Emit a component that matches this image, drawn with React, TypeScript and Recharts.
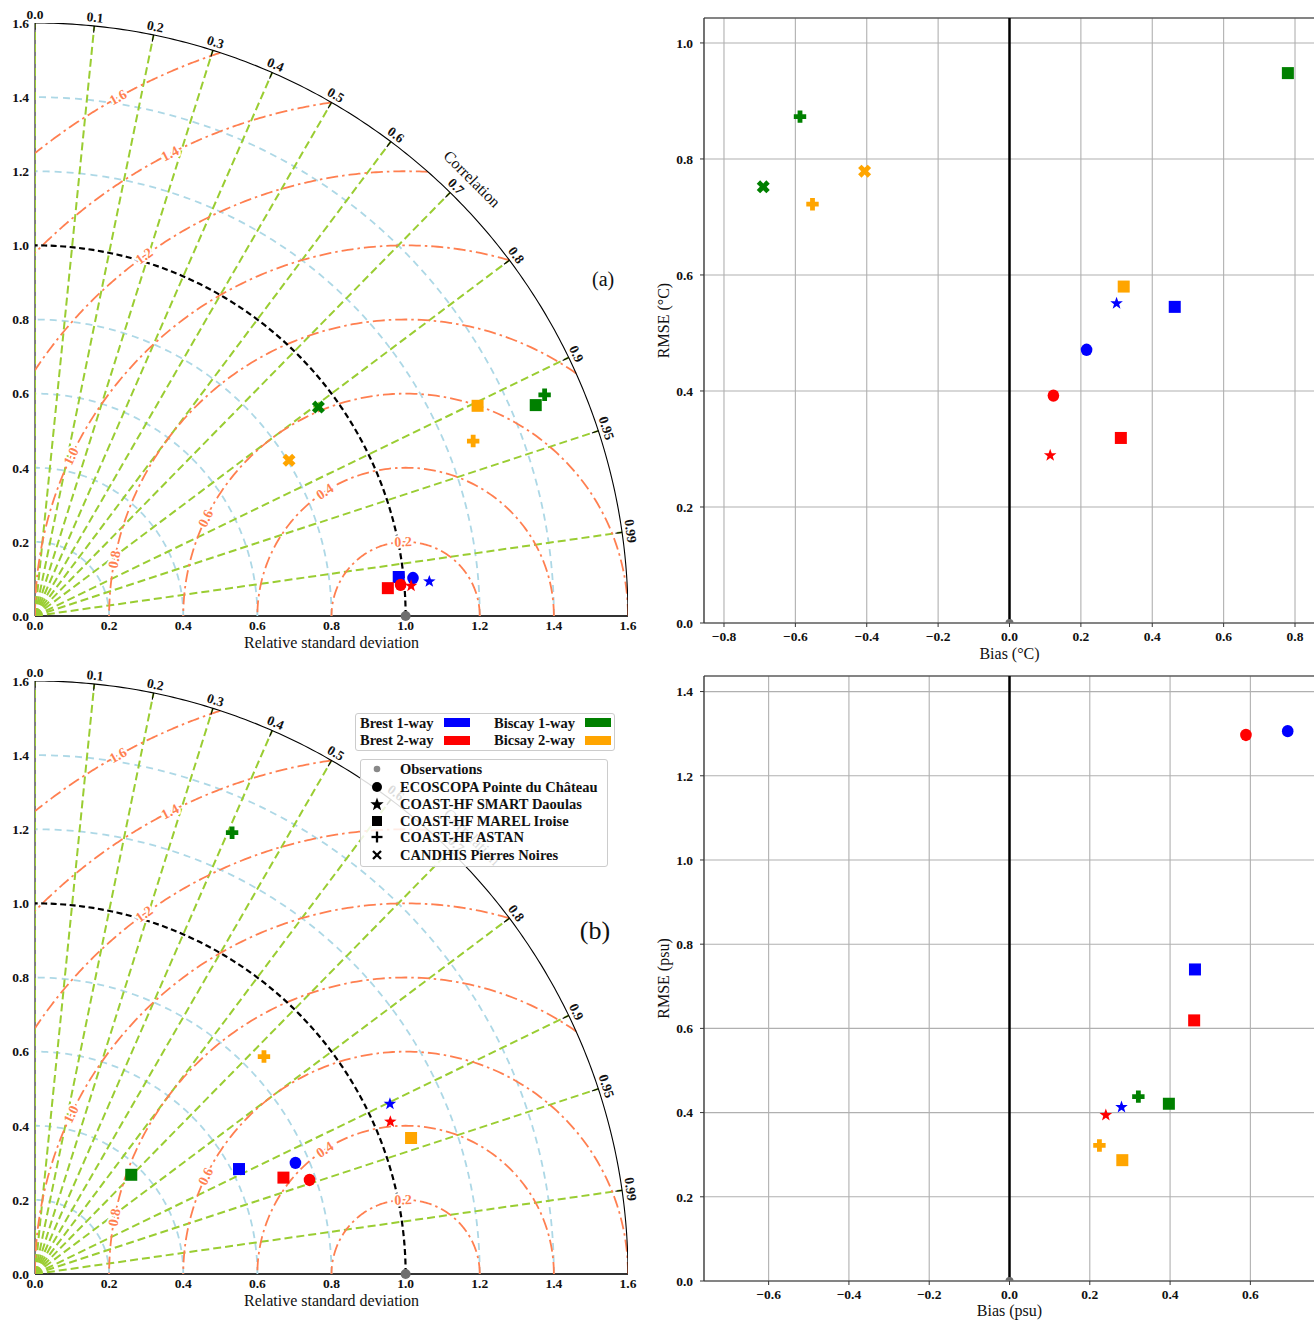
import React from 'react';
import { ScatterChart, Scatter, XAxis, YAxis, CartesianGrid, ReferenceLine, ReferenceDot } from 'recharts';

const FONT = '"Liberation Serif", "DejaVu Serif", serif';

// ---------- categories ----------
const configs = ['Brest 1-way', 'Brest 2-way', 'Biscay 1-way', 'Bicsay 2-way'];
const configColors = ['#0000ff', '#ff0000', '#008000', '#ffa500'];
const stations = ['ECOSCOPA Pointe du Château', 'COAST-HF SMART Daoulas', 'COAST-HF MAREL Iroise', 'COAST-HF ASTAN', 'CANDHIS Pierres Noires'];
const stationMarkers = ['circle', 'star', 'square', 'plus', 'cross'];
const observationLabel = 'Observations';
const [ECO, SMART, MAREL, ASTAN, CANDHIS] = stations;

// ---------- (a) temperature : Taylor (relative std, correlation) ----------
const tempTaylorBrest1 = [
  { station: ECO, std: 1.025, corr: 0.995 },
  { station: SMART, std: 1.068, corr: 0.9962 },
  { station: MAREL, std: 0.987, corr: 0.9943 },
];
const tempTaylorBrest2 = [
  { station: ECO, std: 0.99, corr: 0.9964 },
  { station: SMART, std: 1.018, corr: 0.9968 },
  { station: MAREL, std: 0.955, corr: 0.9969 },
];
const tempTaylorBiscay1 = [
  { station: MAREL, std: 1.466, corr: 0.9216 },
  { station: ASTAN, std: 1.499, corr: 0.9173 },
  { station: CANDHIS, std: 0.95, corr: 0.8049 },
];
const tempTaylorBiscay2 = [
  { station: MAREL, std: 1.322, corr: 0.9033 },
  { station: ASTAN, std: 1.273, corr: 0.9287 },
  { station: CANDHIS, std: 0.804, corr: 0.8525 },
];

// ---------- (b) salinity : Taylor ----------
const salTaylorBrest1 = [
  { station: ECO, std: 0.764, corr: 0.9198 },
  { station: SMART, std: 1.062, corr: 0.9018 },
  { station: MAREL, std: 0.619, corr: 0.8892 },
];
const salTaylorBrest2 = [
  { station: ECO, std: 0.783, corr: 0.946 },
  { station: SMART, std: 1.043, corr: 0.9192 },
  { station: MAREL, std: 0.719, corr: 0.9323 },
];
const salTaylorBiscay1 = [
  { station: MAREL, std: 0.373, corr: 0.6963 },
  { station: ASTAN, std: 1.304, corr: 0.4078 },
];
const salTaylorBiscay2 = [
  { station: MAREL, std: 1.079, corr: 0.9404 },
  { station: ASTAN, std: 0.852, corr: 0.7251 },
];

// ---------- (a) temperature : bias / RMSE ----------
const tempBiasBrest1 = [
  { station: ECO, bias: 0.216, rmse: 0.471 },
  { station: SMART, bias: 0.3, rmse: 0.551 },
  { station: MAREL, bias: 0.463, rmse: 0.545 },
];
const tempBiasBrest2 = [
  { station: ECO, bias: 0.123, rmse: 0.392 },
  { station: SMART, bias: 0.114, rmse: 0.289 },
  { station: MAREL, bias: 0.312, rmse: 0.319 },
];
const tempBiasBiscay1 = [
  { station: MAREL, bias: 0.78, rmse: 0.948 },
  { station: ASTAN, bias: -0.587, rmse: 0.873 },
  { station: CANDHIS, bias: -0.69, rmse: 0.752 },
];
const tempBiasBiscay2 = [
  { station: MAREL, bias: 0.32, rmse: 0.58 },
  { station: ASTAN, bias: -0.552, rmse: 0.722 },
  { station: CANDHIS, bias: -0.406, rmse: 0.779 },
];

// ---------- (b) salinity : bias / RMSE ----------
const salBiasBrest1 = [
  { station: ECO, bias: 0.693, rmse: 1.306 },
  { station: SMART, bias: 0.279, rmse: 0.413 },
  { station: MAREL, bias: 0.462, rmse: 0.74 },
];
const salBiasBrest2 = [
  { station: ECO, bias: 0.589, rmse: 1.297 },
  { station: SMART, bias: 0.24, rmse: 0.394 },
  { station: MAREL, bias: 0.46, rmse: 0.619 },
];
const salBiasBiscay1 = [
  { station: MAREL, bias: 0.397, rmse: 0.421 },
  { station: ASTAN, bias: 0.321, rmse: 0.438 },
];
const salBiasBiscay2 = [
  { station: MAREL, bias: 0.281, rmse: 0.287 },
  { station: ASTAN, bias: 0.224, rmse: 0.322 },
];

// ---------- Taylor axes / grid ----------
const stdTicks = [0, 0.2, 0.4, 0.6, 0.8, 1.0, 1.2, 1.4, 1.6];
const corrTicks = [0, 0.1, 0.2, 0.3, 0.4, 0.5, 0.6, 0.7, 0.8, 0.9, 0.95, 0.99];
const corrTickLabels = ['0.0', '0.1', '0.2', '0.3', '0.4', '0.5', '0.6', '0.7', '0.8', '0.9', '0.95', '0.99'];
const stdArcLevels = [0.2, 0.4, 0.6, 0.8, 1.2, 1.4];
const rmsdLevels = [0.2, 0.4, 0.6, 0.8, 1.0, 1.2, 1.4, 1.6];
const rmsdLabels = ['0.2', '0.4', '0.6', '0.8', '1.0', '1.2', '1.4', '1.6'];
const rmsdLabelAngles = [92, 123, 154, 169, 154.5, 126, 117, 119];

// ---------- bias panels axes ----------
const tempBiasTicks = [-0.8, -0.6, -0.4, -0.2, 0, 0.2, 0.4, 0.6, 0.8];
const tempRmseTicks = [0, 0.2, 0.4, 0.6, 0.8, 1.0];
const salBiasTicks = [-0.6, -0.4, -0.2, 0, 0.2, 0.4, 0.6];
const salRmseTicks = [0, 0.2, 0.4, 0.6, 0.8, 1.0, 1.2, 1.4];

const RMAX = 1.6;
const GREEN = '#9acd32';
const LIGHTBLUE = '#add8e6';
const CORAL = '#ff7f50';

const f1 = (v: number) => v.toFixed(1);
const fMinus = (v: number) => (v < -1e-9 ? '\u2212' + Math.abs(v).toFixed(1) : Math.abs(v).toFixed(1));
const markerOf = (station: string) => stationMarkers[stations.indexOf(station)];
const toXY = (d: { station: string; std: number; corr: number }) => ({
  station: d.station,
  x: d.std * d.corr,
  y: d.std * Math.sqrt(Math.max(0, 1 - d.corr * d.corr)),
});

const arcPts = (r: number, n = 120) =>
  Array.from({ length: n + 1 }, (_, i) => {
    const t = ((Math.PI / 2) * i) / n;
    return { x: r * Math.cos(t), y: r * Math.sin(t) };
  });

const rmsdPts = (r: number, n = 160) => {
  const xo = (RMAX * RMAX - r * r + 1) / 2;
  const t0 = xo >= RMAX ? 0 : Math.acos(Math.max(-1, Math.min(1, (xo - 1) / r)));
  const t1 = r <= 1 ? Math.PI : Math.acos(-1 / r);
  return Array.from({ length: n + 1 }, (_, i) => {
    const t = t0 + ((t1 - t0) * i) / n;
    return { x: Math.max(0, 1 + r * Math.cos(t)), y: r * Math.sin(t) };
  });
};

const Empty = () => <g />;

function MarkerGlyph({ kind, cx, cy, color }: any) {
  if (kind === 'circle') return <ellipse cx={cx} cy={cy} rx={5.8} ry={6.2} fill={color} />;
  if (kind === 'square') return <rect x={cx - 6} y={cy - 6} width={12} height={12} fill={color} />;
  if (kind === 'star') {
    const pts = Array.from({ length: 10 }, (_, k) => {
      const a = -Math.PI / 2 + (k * Math.PI) / 5;
      const rr = k % 2 === 0 ? 6.6 : 2.7;
      return `${cx + rr * Math.cos(a)},${cy + rr * Math.sin(a)}`;
    }).join(' ');
    return <polygon points={pts} fill={color} />;
  }
  if (kind === 'plus' || kind === 'cross') {
    const a = kind === 'cross' ? 6.8 : 6.2;
    const t = 2.4;
    const pts = [[-t, -a], [t, -a], [t, -t], [a, -t], [a, t], [t, t], [t, a], [-t, a], [-t, t], [-a, t], [-a, -t], [-t, -t]]
      .map(([x, y]) => `${cx + x},${cy + y}`)
      .join(' ');
    return <polygon points={pts} fill={color} transform={kind === 'cross' ? `rotate(45 ${cx} ${cy})` : undefined} />;
  }
  return null;
}

function polyline(key: string, pts: { x: number; y: number }[], stroke: string, width: number, dash?: string) {
  return (
    <Scatter
      key={key}
      data={pts}
      line={{ stroke, strokeWidth: width, strokeDasharray: dash }}
      lineType="joint"
      shape={Empty}
      isAnimationActive={false}
      legendType="none"
    />
  );
}

function textDot(key: string, x: number, y: number, label: string, rot: number, attrs: any, halo?: number) {
  return (
    <ReferenceDot
      key={key}
      x={x}
      y={y}
      ifOverflow="visible"
      shape={(p: any) => {
        const common = {
          x: p.cx,
          y: p.cy,
          transform: rot ? `rotate(${rot} ${p.cx} ${p.cy})` : undefined,
          textAnchor: 'middle',
          dominantBaseline: 'central',
        };
        return (
          <g>
            {halo ? (
              <text {...common} {...attrs} fill="#ffffff" stroke="#ffffff" strokeWidth={halo} strokeLinejoin="round">
                {label}
              </text>
            ) : null}
            <text {...common} {...attrs}>
              {label}
            </text>
          </g>
        );
      }}
    />
  );
}

const tickStyle = { fill: '#111', fontSize: 13.5, fontWeight: 'bold', fontFamily: FONT };

function TaylorPanel({ top, series, panelLabel, panelX, panelY, panelSize }: any) {
  const corrLabelR = 1.623;
  return (
    <div style={{ position: 'absolute', left: 0, top }}>
      <ScatterChart width={660} height={660} margin={{ top: 23, right: 32, bottom: 10, left: 0 }}>
        <XAxis
          type="number"
          dataKey="x"
          domain={[0, RMAX]}
          ticks={stdTicks}
          allowDataOverflow
          interval={0}
          tickFormatter={f1}
          tickLine={false}
          tickSize={0}
          tickMargin={4.5}
          axisLine={{ stroke: '#333', strokeWidth: 2 }}
          tick={tickStyle}
          height={34}
          label={{ value: 'Relative standard deviation', position: 'insideBottom', offset: 2, fill: '#111', fontSize: 16, fontFamily: FONT }}
        />
        <YAxis
          type="number"
          dataKey="y"
          domain={[0, RMAX]}
          ticks={stdTicks}
          allowDataOverflow
          interval={0}
          tickFormatter={f1}
          tickLine={false}
          tickSize={0}
          tickMargin={6}
          axisLine={{ stroke: '#000', strokeWidth: 1 }}
          tick={tickStyle}
          width={35}
        />
        {stdArcLevels.map((r) => polyline('sa' + r, arcPts(r), LIGHTBLUE, 1.8, '7 5'))}
        {corrTicks.map((c) =>
          polyline('cl' + c, [{ x: 0, y: 0 }, { x: RMAX * c, y: RMAX * Math.sqrt(1 - c * c) }], GREEN, 2, '8 4')
        )}
        {rmsdLevels.map((r) => polyline('rm' + r, rmsdPts(r), CORAL, 1.8, '12 4 2.5 4'))}
        {polyline('std1', arcPts(1.0), '#000', 2.2, '6 3.5')}
        {polyline('outer', arcPts(RMAX, 200), '#000', 1.1)}
        {corrTicks.map((c) =>
          polyline('ct' + c, [{ x: 1.582 * c, y: 1.582 * Math.sqrt(1 - c * c) }, { x: RMAX * c, y: RMAX * Math.sqrt(1 - c * c) }], '#000', 1.1)
        )}
        {series.map((s: any[], i: number) => (
          <Scatter
            key={'m' + i}
            data={s.map(toXY)}
            isAnimationActive={false}
            legendType="none"
            shape={(p: any) => <MarkerGlyph kind={markerOf(p.payload.station)} cx={p.cx} cy={p.cy} color={configColors[i]} />}
          />
        ))}
        {rmsdLevels.map((r, i) => {
          const phi = (rmsdLabelAngles[i] * Math.PI) / 180;
          return textDot(
            'rl' + r,
            1 + r * Math.cos(phi),
            r * Math.sin(phi),
            rmsdLabels[i],
            90 - rmsdLabelAngles[i],
            { fontFamily: FONT, fontSize: 14, fontWeight: 'bold', fill: CORAL },
            4
          );
        })}
        {corrTicks.map((c, i) => {
          const th = Math.acos(c);
          return textDot('cx' + c, corrLabelR * Math.cos(th), corrLabelR * Math.sin(th), corrTickLabels[i], 90 - (th * 180) / Math.PI, {
            fontFamily: FONT,
            fontSize: 13.5,
            fontWeight: 'bold',
            fill: '#111',
          });
        })}
        {textDot('corrTitle', 1.668 * Math.cos(Math.PI / 4), 1.668 * Math.sin(Math.PI / 4), 'Correlation', 45, {
          fontFamily: FONT,
          fontSize: 16,
          fill: '#111',
        })}
        <ReferenceDot x={1} y={0} r={5} fill="#6e6e6e" stroke="none" ifOverflow="visible" />
        {textDot('panel', panelX, panelY, panelLabel, 0, { fontFamily: FONT, fontSize: panelSize, fill: '#111' })}
      </ScatterChart>
    </div>
  );
}

function BiasPanel({ top, series, xDomain, xTicks, yDomain, yTicks, xLabel, yLabel, xLabelOffset }: any) {
  return (
    <div style={{ position: 'absolute', left: 650, top }}>
      <ScatterChart width={665} height={670} margin={{ top: 18, right: 0, bottom: 0, left: 0 }}>
        <CartesianGrid stroke="#b0b0b0" strokeWidth={1.1} />
        <XAxis
          type="number"
          dataKey="x"
          domain={xDomain}
          ticks={xTicks}
          allowDataOverflow
          interval={0}
          tickFormatter={fMinus}
          tickSize={4}
          tickMargin={4.5}
          tickLine={{ stroke: '#333' }}
          axisLine={{ stroke: '#333', strokeWidth: 1.2 }}
          tick={tickStyle}
          height={47}
          label={{ value: xLabel, position: 'insideBottom', offset: xLabelOffset, fill: '#111', fontSize: 16, fontFamily: FONT }}
        />
        <YAxis
          type="number"
          dataKey="y"
          domain={yDomain}
          ticks={yTicks}
          allowDataOverflow
          interval={0}
          tickFormatter={fMinus}
          tickSize={4}
          tickMargin={7}
          tickLine={{ stroke: '#333' }}
          axisLine={{ stroke: '#333', strokeWidth: 1.2 }}
          tick={tickStyle}
          width={54}
          label={{
            value: yLabel,
            angle: -90,
            position: 'insideLeft',
            offset: 13,
            textAnchor: 'middle',
            style: { textAnchor: 'middle' },
            fill: '#111',
            fontSize: 16,
            fontFamily: FONT,
          }}
        />
        <ReferenceLine y={yDomain[1]} stroke="#333" strokeWidth={1.2} />
        <ReferenceLine x={0} stroke="#000" strokeWidth={2.5} />
        <Scatter
          data={[{ x: 0, y: 0 }]}
          isAnimationActive={false}
          legendType="none"
          shape={(p: any) => <circle cx={p.cx} cy={p.cy} r={4} fill="#6e6e6e" />}
        />
        {series.map((s: any[], i: number) => (
          <Scatter
            key={'b' + i}
            data={s.map((d) => ({ station: d.station, x: d.bias, y: d.rmse }))}
            isAnimationActive={false}
            legendType="none"
            shape={(p: any) => <MarkerGlyph kind={markerOf(p.payload.station)} cx={p.cx} cy={p.cy} color={configColors[i]} />}
          />
        ))}
      </ScatterChart>
    </div>
  );
}

function LegendIcon({ kind }: { kind: string }) {
  const c = 8;
  let el: any = null;
  if (kind === 'obs') el = <circle cx={c} cy={c} r={3.3} fill="#888" />;
  else if (kind === 'circle') el = <circle cx={c} cy={c} r={5} fill="#000" />;
  else if (kind === 'square') el = <rect x={c - 5} y={c - 5} width={10} height={10} fill="#000" />;
  else if (kind === 'star') {
    const pts = Array.from({ length: 10 }, (_, k) => {
      const a = -Math.PI / 2 + (k * Math.PI) / 5;
      const rr = k % 2 === 0 ? 7 : 2.9;
      return `${c + rr * Math.cos(a)},${c + 0.5 + rr * Math.sin(a)}`;
    }).join(' ');
    el = <polygon points={pts} fill="#000" />;
  } else if (kind === 'plus')
    el = (
      <g stroke="#000" strokeWidth={2.3}>
        <line x1={c - 5.5} y1={c} x2={c + 5.5} y2={c} />
        <line x1={c} y1={c - 5.5} x2={c} y2={c + 5.5} />
      </g>
    );
  else if (kind === 'cross')
    el = (
      <g stroke="#000" strokeWidth={2.3}>
        <line x1={c - 4} y1={c - 4} x2={c + 4} y2={c + 4} />
        <line x1={c - 4} y1={c + 4} x2={c + 4} y2={c - 4} />
      </g>
    );
  return (
    <svg width={16} height={16} style={{ position: 'absolute', left: -8, top: -8, overflow: 'visible' }}>
      {el}
    </svg>
  );
}

function Legends() {
  const txt: any = {
    position: 'absolute',
    fontFamily: FONT,
    fontWeight: 'bold',
    fontSize: 14.5,
    color: '#111',
    lineHeight: '18px',
    height: 18,
    whiteSpace: 'nowrap',
  };
  const box: any = {
    position: 'absolute',
    boxSizing: 'border-box',
    border: '1px solid #cccccc',
    borderRadius: 3,
    background: 'rgba(255,255,255,0.85)',
  };
  const rows1 = [9.7, 27];
  const textX = [5, 139];
  const patchX = [89, 230];
  const rows2 = [10.3, 27.7, 44.7, 61.7, 78.3, 96];
  const entries2 = [
    { label: observationLabel, kind: 'obs' },
    ...stations.map((s, i) => ({ label: s, kind: stationMarkers[i] })),
  ];
  return (
    <>
      <div style={{ ...box, left: 355, top: 713, width: 260, height: 38 }}>
        {configs.map((c, i) => {
          const col = Math.floor(i / 2);
          const row = i % 2;
          return (
            <React.Fragment key={c}>
              <div style={{ ...txt, left: textX[col] - 1, top: rows1[row] - 9 - 1 }}>{c}</div>
              <div
                style={{
                  position: 'absolute',
                  left: patchX[col] - 1,
                  top: rows1[row] - 4.5 - 1,
                  width: 26,
                  height: 9,
                  background: configColors[i],
                }}
              />
            </React.Fragment>
          );
        })}
      </div>
      <div style={{ ...box, left: 360, top: 759, width: 248, height: 108 }}>
        {entries2.map((e, i) => (
          <React.Fragment key={e.label}>
            <div style={{ position: 'absolute', left: 16.7 - 1, top: rows2[i] - 1 }}>
              <LegendIcon kind={e.kind} />
            </div>
            <div style={{ ...txt, left: 40 - 1, top: rows2[i] - 9 - 1 }}>{e.label}</div>
          </React.Fragment>
        ))}
      </div>
    </>
  );
}

export default function App() {
  return (
    <div style={{ position: 'absolute', left: 0, top: 0, width: 1314, height: 1321, overflow: 'hidden', background: '#fff' }}>
      <TaylorPanel
        top={0}
        series={[tempTaylorBrest1, tempTaylorBrest2, tempTaylorBiscay1, tempTaylorBiscay2]}
        panelLabel="(a)"
        panelX={1.533}
        panelY={0.909}
        panelSize={20}
      />
      <TaylorPanel
        top={658}
        series={[salTaylorBrest1, salTaylorBrest2, salTaylorBiscay1, salTaylorBiscay2]}
        panelLabel="(b)"
        panelX={1.511}
        panelY={0.928}
        panelSize={26}
      />
      <BiasPanel
        top={0}
        series={[tempBiasBrest1, tempBiasBrest2, tempBiasBiscay1, tempBiasBiscay2]}
        xDomain={[-0.856, 0.856]}
        xTicks={tempBiasTicks}
        yDomain={[0, 1.043]}
        yTicks={tempRmseTicks}
        xLabel="Bias (°C)"
        yLabel="RMSE (°C)"
        xLabelOffset={11}
      />
      <BiasPanel
        top={658}
        series={[salBiasBrest1, salBiasBrest2, salBiasBiscay1, salBiasBiscay2]}
        xDomain={[-0.761, 0.761]}
        xTicks={salBiasTicks}
        yDomain={[0, 1.437]}
        yTicks={salRmseTicks}
        xLabel="Bias (psu)"
        yLabel="RMSE (psu)"
        xLabelOffset={12}
      />
      <Legends />
    </div>
  );
}
